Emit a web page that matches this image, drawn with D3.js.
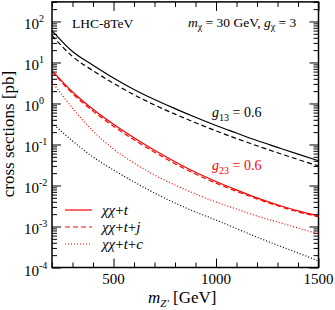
<!DOCTYPE html>
<html><head><meta charset="utf-8">
<script src="https://cdn.jsdelivr.net/npm/d3@7"></script>
<style>
body{margin:0;background:#fff}
svg{display:block}
text{font-family:"Liberation Serif","Times New Roman",serif;fill:#000}
</style>
</head><body><svg id="c" width="335" height="310"></svg>
<script>
// Z' mass points (GeV)
const masses = [200,300,400,500,600,700,800,900,1000,1100,1200,1300,1400,1500];
// g13 = 0.6 (black)
const g13_t  = [60,18.5,8.6,4.2,2.2,1.25,0.75,0.46,0.29,0.19,0.125,0.085,0.058,0.04];
const g13_tj = [46,14,6.3,3.1,1.63,0.92,0.55,0.34,0.215,0.14,0.093,0.063,0.043,0.03];
const g13_tc = [0.334,0.122,0.0496,0.0239,0.0122,0.00656,0.00374,0.00226,0.00144,0.00089,0.00055,0.00035,0.000226,0.000144];
// g23 = 0.6 (red)
const g23_t  = [6.3,1.9,0.72,0.31,0.145,0.072,0.038,0.021,0.0125,0.0078,0.005,0.0034,0.0024,0.0018];
const g23_tj = [6.1,1.75,0.65,0.28,0.13,0.065,0.034,0.019,0.0114,0.0072,0.0047,0.0032,0.00228,0.00172];
const g23_tc = [3.35,0.776,0.213,0.0776,0.0354,0.018,0.0103,0.0062,0.00396,0.00267,0.0018,0.00129,0.00092,0.00066];
// axes
const xMajor = [500,1000,1500];
const xMinor = [200,300,400,600,700,800,900,1100,1200,1300,1400];
const yExps = [-4,-3,-2,-1,0,1,2];
const legendLabels = ["t","t+j","t+c"];

const svg = d3.select("#c");
const L=52, R=318.5, T=1.9, B=267.5;
const x = d3.scaleLinear().domain([200,1500]).range([L,R]);
const y = d3.scaleLog().domain([1e-4,300]).range([B,T]);

const yMajor = yExps.map(e=>Math.pow(10,e));
const yMinor = [];
yExps.concat([2]).forEach(e=>{ for(let k=2;k<=9;k++){ const v=k*Math.pow(10,e); if(v<=300) yMinor.push(v);} });
const yMinorU = Array.from(new Set(yMinor.map(v=>+v.toPrecision(3))));

function ax(gen, scale, vals, size, tr){
  const g = svg.append("g").attr("transform",tr)
    .call(gen(scale).tickValues(vals).tickSize(size).tickFormat(""));
  g.select(".domain").remove();
  g.selectAll(".tick line").attr("stroke","#000").attr("stroke-width",1);
}
ax(d3.axisBottom,x,xMajor,-9,`translate(0,${B})`);
ax(d3.axisBottom,x,xMinor,-5,`translate(0,${B})`);
ax(d3.axisTop,x,xMajor,-9,`translate(0,${T})`);
ax(d3.axisTop,x,xMinor,-5,`translate(0,${T})`);
ax(d3.axisLeft,y,yMajor,-9,`translate(${L},0)`);
ax(d3.axisLeft,y,yMinorU,-5,`translate(${L},0)`);
ax(d3.axisRight,y,yMajor,-9,`translate(${R},0)`);
ax(d3.axisRight,y,yMinorU,-5,`translate(${R},0)`);

// curves
const line = d3.line().x((d,i)=>x(masses[i])).y(d=>y(d)).curve(d3.curveMonotoneX);
const series = [
  {v:g13_t, c:"#000", dash:null},
  {v:g13_tj,c:"#000", dash:"5,3"},
  {v:g13_tc,c:"#000", dash:"1,2"},
  {v:g23_t, c:"#f00", dash:null},
  {v:g23_tj,c:"#f00", dash:"5,3"},
  {v:g23_tc,c:"#f00", dash:"1,2"}
];
const clip = svg.append("clipPath").attr("id","pc").append("rect")
  .attr("x",L).attr("y",T).attr("width",R-L).attr("height",B-T);
svg.append("g").attr("clip-path","url(#pc)").selectAll("path").data(series).join("path")
  .attr("d",d=>line(d.v)).attr("fill","none").attr("stroke",d=>d.c)
  .attr("stroke-width",1.2).attr("stroke-dasharray",d=>d.dash);

// frame
svg.append("rect").attr("x",L).attr("y",T).attr("width",R-L).attr("height",B-T)
  .attr("fill","none").attr("stroke","#000").attr("stroke-width",1.5);

// x tick labels
svg.selectAll(".xl").data(xMajor).join("text").attr("class","xl")
  .attr("x",d=>x(d)).attr("y",284).attr("text-anchor","middle").attr("font-size",15)
  .text(d=>d);
// y tick labels
const yl = svg.selectAll(".yl").data(yExps).join("text").attr("class","yl")
  .attr("x",24).attr("y",d=>y(Math.pow(10,d))+8).attr("font-size",15);
yl.append("tspan").text("10");
yl.append("tspan").attr("font-size",10).attr("dy",-7).text(d=>d);

// axis titles
const xt = svg.append("text").attr("x",148).attr("y",303).attr("font-size",17);
xt.append("tspan").attr("font-style","italic").text("m");
xt.append("tspan").attr("font-style","italic").attr("font-size",11).attr("dy",4).text("Z'");
xt.append("tspan").attr("dy",-4).text(" [GeV]");
svg.append("text").attr("transform","translate(14,134) rotate(-90)")
  .attr("text-anchor","middle").attr("font-size",17).text("cross sections [pb]");

// annotations
svg.append("text").attr("x",72).attr("y",28).attr("font-size",13.5).text("LHC-8TeV");
const mt = svg.append("text").attr("x",188).attr("y",27).attr("font-size",13.5);
mt.append("tspan").attr("font-style","italic").text("m");
mt.append("tspan").attr("font-size",10).attr("dy",3).text("χ");
mt.append("tspan").attr("dy",-3).text(" = 30 GeV, ");
mt.append("tspan").attr("font-style","italic").text("g");
mt.append("tspan").attr("font-size",10).attr("dy",3).text("χ");
mt.append("tspan").attr("dy",-3).text(" = 3");

const g1 = svg.append("text").attr("x",212).attr("y",117).attr("font-size",14);
g1.append("tspan").attr("font-style","italic").text("g");
g1.append("tspan").attr("font-size",10).attr("dy",4).text("13");
g1.append("tspan").attr("dy",-4).text(" = 0.6");
const g2 = svg.append("text").attr("x",212).attr("y",170).attr("font-size",14).style("fill","#f00");
g2.append("tspan").attr("font-style","italic").text("g");
g2.append("tspan").attr("font-size",10).attr("dy",4).text("23");
g2.append("tspan").attr("dy",-4).text(" = 0.6");

// legend
const lg = svg.append("g");
const ly = [210,227,244];
const ldash = [null,"5,3","1,2"];
legendLabels.forEach((lab,i)=>{
  lg.append("line").attr("x1",65).attr("x2",92).attr("y1",ly[i]).attr("y2",ly[i])
    .attr("stroke","#f00").attr("stroke-width",1.2).attr("stroke-dasharray",ldash[i]);
  const t = lg.append("text").attr("x",102).attr("y",ly[i]+5).attr("font-size",15);
  t.append("tspan").attr("font-style","italic").text("χχ");
  t.append("tspan").text("+");
  const parts = lab.split("+");
  parts.forEach((p,j)=>{
    if(j>0) t.append("tspan").text("+");
    t.append("tspan").attr("font-style","italic").text(p);
  });
});
</script>
</body></html>
